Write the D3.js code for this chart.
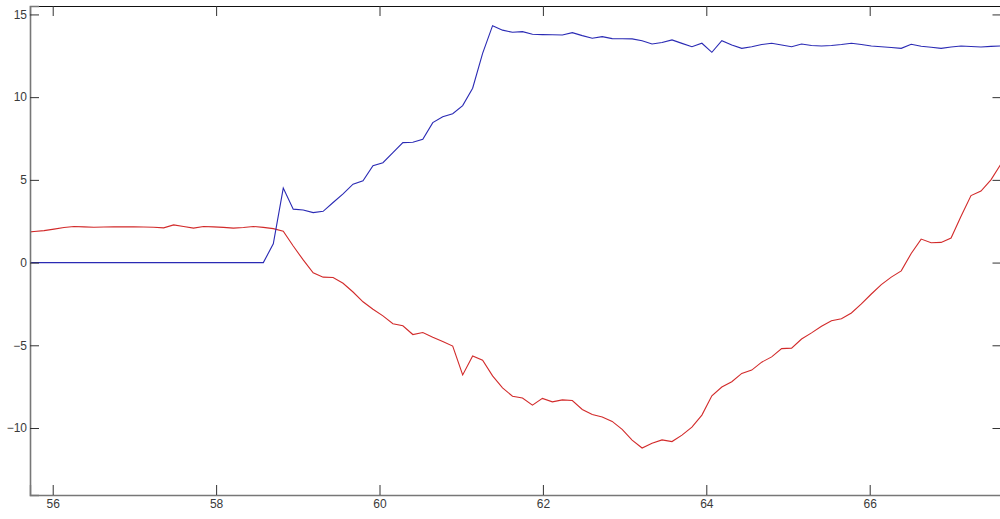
<!DOCTYPE html>
<html>
<head>
<meta charset="utf-8">
<script src="https://cdn.jsdelivr.net/npm/d3@7"></script>
<style>
  html, body { margin: 0; padding: 0; background: #fff; }
  svg { display: block; }
  .tick text { font-family: "Liberation Sans", Arial, sans-serif; font-size: 12px; fill: #3a3a3a; }
</style>
</head>
<body>
<svg id="chart" width="1000" height="519"></svg>
<script>
// Sample times (s)
const time = [
  55.650, 55.772, 55.894, 56.016, 56.138, 56.260, 56.382, 56.504, 56.626, 56.748,
  56.870, 56.992, 57.114, 57.236, 57.358, 57.480, 57.602, 57.724, 57.846, 57.968,
  58.090, 58.212, 58.334, 58.456, 58.578, 58.700, 58.822, 58.944, 59.066, 59.188,
  59.310, 59.432, 59.554, 59.676, 59.798, 59.920, 60.042, 60.164, 60.286, 60.408,
  60.530, 60.652, 60.774, 60.896, 61.018, 61.140, 61.262, 61.384, 61.506, 61.628,
  61.750, 61.872, 61.994, 62.116, 62.238, 62.360, 62.482, 62.604, 62.726, 62.848,
  62.970, 63.092, 63.214, 63.336, 63.458, 63.580, 63.702, 63.824, 63.946, 64.068,
  64.190, 64.312, 64.434, 64.556, 64.678, 64.800, 64.922, 65.044, 65.166, 65.288,
  65.410, 65.532, 65.654, 65.776, 65.898, 66.020, 66.142, 66.264, 66.386, 66.508,
  66.630, 66.752, 66.874, 66.996, 67.118, 67.240, 67.362, 67.484, 67.606
];

// Blue series
const blueSeries = [
  0, 0, 0, 0, 0, 0, 0, 0, 0, 0,
  0, 0, 0, 0, 0, 0, 0, 0, 0, 0,
  0, 0, 0, 0, 0, 1.13, 4.50, 3.23, 3.18, 3.02,
  3.10, 3.63, 4.15, 4.74, 4.94, 5.86, 6.04, 6.65, 7.25, 7.27,
  7.46, 8.46, 8.82, 9.00, 9.49, 10.54, 12.65, 14.32, 14.05, 13.92,
  13.96, 13.80, 13.78, 13.77, 13.76, 13.90, 13.72, 13.56, 13.66, 13.54,
  13.53, 13.52, 13.41, 13.21, 13.30, 13.46, 13.25, 13.05, 13.26, 12.71,
  13.41, 13.15, 12.95, 13.05, 13.18, 13.26, 13.15, 13.05, 13.21, 13.12,
  13.09, 13.12, 13.18, 13.26, 13.18, 13.09, 13.05, 13.00, 12.95, 13.20,
  13.08, 13.02, 12.95, 13.03, 13.09, 13.06, 13.03, 13.07, 13.09
];

// Red series
const redSeries = [
  1.82, 1.88, 1.93, 2.02, 2.12, 2.18, 2.16, 2.14, 2.15, 2.16,
  2.16, 2.16, 2.15, 2.14, 2.10, 2.28, 2.18, 2.08, 2.18, 2.16,
  2.13, 2.08, 2.12, 2.18, 2.13, 2.05, 1.90, 1.00, 0.16, -0.62,
  -0.88, -0.90, -1.25, -1.78, -2.37, -2.82, -3.22, -3.70, -3.82, -4.35,
  -4.23, -4.51, -4.77, -5.05, -6.79, -5.64, -5.90, -6.85, -7.57, -8.08,
  -8.19, -8.62, -8.21, -8.42, -8.30, -8.34, -8.88, -9.18, -9.33, -9.60,
  -10.08, -10.73, -11.21, -10.92, -10.72, -10.82, -10.43, -9.95, -9.22, -8.05,
  -7.52, -7.20, -6.70, -6.50, -6.02, -5.70, -5.20, -5.17, -4.62, -4.25,
  -3.85, -3.52, -3.40, -3.05, -2.50, -1.90, -1.33, -0.88, -0.50, 0.55,
  1.42, 1.20, 1.22, 1.48, 2.80, 4.05, 4.32, 5.00, 5.95
];

const xTicks = [56, 58, 60, 62, 64, 66];
const yTicks = [-10, -5, 0, 5, 10, 15];
const xLimits = [55.722, 67.601];
const yLimits = [-14.05, 15.51];

const svg = d3.select("#chart");
const padL = 30, padR = 1000.5, padT = 6, padB = 495;

const x = d3.scaleLinear().domain(xLimits).range([padL, padR]);
const y = d3.scaleLinear().domain(yLimits).range([padB, padT]);

svg.append("defs").append("clipPath").attr("id", "plotclip")
  .append("rect").attr("x", padL).attr("y", padT)
  .attr("width", padR - padL).attr("height", padB - padT);

const line = d3.line().x(d => x(d[0])).y(d => y(d[1]));

const plot = svg.append("g").attr("clip-path", "url(#plotclip)");
plot.append("path")
  .datum(time.map((t, i) => [t, redSeries[i]]))
  .attr("d", line).attr("fill", "none")
  .attr("stroke", "#d22a2a").attr("stroke-width", 1.1);
plot.append("path")
  .datum(time.map((t, i) => [t, blueSeries[i]]))
  .attr("d", line).attr("fill", "none")
  .attr("stroke", "#2a2ab4").attr("stroke-width", 1.1);

// Axes (MATLAB box style, inward ticks)
const gTop = svg.append("g").attr("transform", `translate(0,${padT})`)
  .call(d3.axisTop(x).tickValues(xTicks).tickSize(-10).tickFormat(""));
gTop.select(".domain").attr("stroke", "#111").attr("stroke-width", 1.2);
gTop.selectAll(".tick line").attr("stroke", "#333");

const gRight = svg.append("g").attr("transform", `translate(${padR},0)`)
  .call(d3.axisRight(y).tickValues(yTicks).tickSize(-8).tickFormat(""));
gRight.select(".domain").attr("stroke", "#111");
gRight.selectAll(".tick line").attr("stroke", "#333");

const gBottom = svg.append("g").attr("transform", `translate(0,${padB})`)
  .call(d3.axisBottom(x).tickValues(xTicks).tickSize(-10).tickPadding(4).tickFormat(d3.format("d")));
gBottom.select(".domain").attr("stroke", "#777").attr("stroke-width", 1.4);
gBottom.selectAll(".tick line").attr("stroke", "#333");

const gLeft = svg.append("g").attr("transform", `translate(${padL},0)`)
  .call(d3.axisLeft(y).tickValues(yTicks).tickSize(-9).tickPadding(3).tickFormat(d3.format("d")));
gLeft.select(".domain").attr("stroke", "#777").attr("stroke-width", 1.6);
gLeft.selectAll(".tick line").attr("stroke", "#333");
</script>
</body>
</html>
